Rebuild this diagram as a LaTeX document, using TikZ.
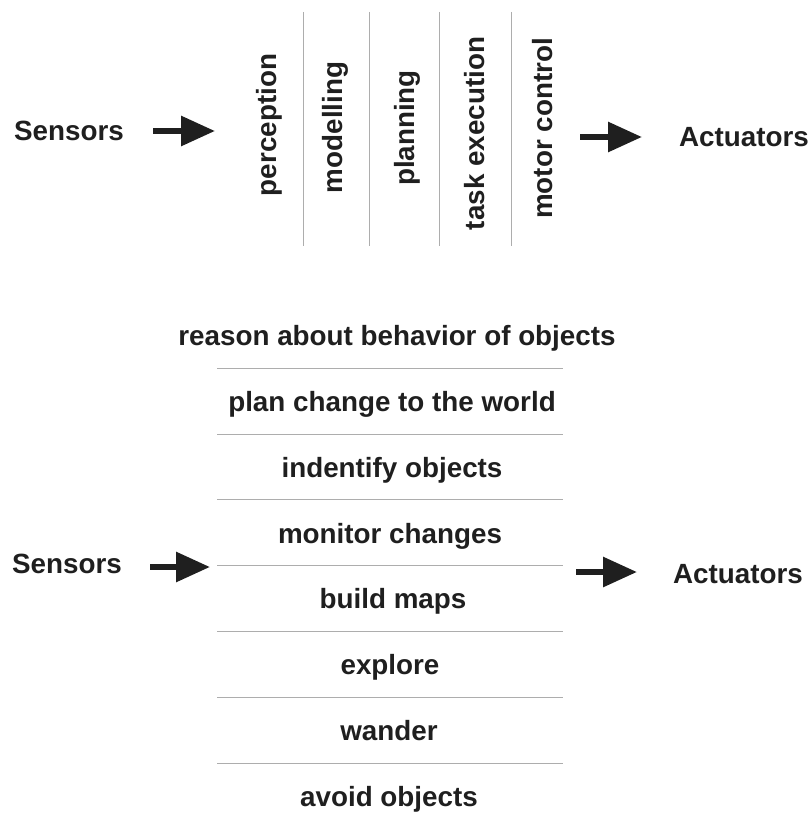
\documentclass[tikz,border=0pt]{standalone}
\usepackage{fontspec}
\setmainfont{Liberation Sans}
\usetikzlibrary{arrows.meta}
\begin{document}
\begin{tikzpicture}[x=1pt,y=-1pt,
  lbl/.style={font=\fontsize{27.8}{30}\selectfont\bfseries, inner sep=0pt, text=black!88},
  vlbl/.style={lbl, rotate=90, anchor=center},
  hlbl/.style={lbl, anchor=base},
  sep/.style={draw=black!32, line width=0.6pt},
  bigarrow/.style={draw=black!88, line width=6pt, -{Triangle[length=34pt,width=29pt]}, shorten >=0pt}
]
\useasboundingbox (0,0) rectangle (811,813);

% ---------- top diagram ----------
\node[hlbl] (s1) at (69,141) {Sensors};
\node[hlbl] (a1) at (744,147) {Actuators};
\coordinate (s1a) at (153,131);
\coordinate (s1b) at (215,131);
\coordinate (a1a) at (580,137);
\coordinate (a1b) at (642,137);
\draw[bigarrow] (s1a) -- (s1b);
\draw[bigarrow] (a1a) -- (a1b);

\node[vlbl] (p1) at (269.5,125) {perception};
\node[vlbl] (p2) at (335,127.5) {modelling};
\node[vlbl] (p3) at (407,128) {planning};
\node[vlbl] (p4) at (475,133.5) {task execution};
\node[vlbl] (p5) at (543,128.5) {motor control};

\foreach \x/\n in {303/v1,369/v2,439/v3,511/v4}{
  \coordinate (\n t) at (\x,12);
  \coordinate (\n b) at (\x,246);
  \draw[sep] (\n t) -- (\n b);
}

% ---------- bottom diagram ----------
\node[hlbl] (s2) at (67,573) {Sensors};
\node[hlbl] (a2) at (738,583) {Actuators};
\coordinate (s2a) at (150,567);
\coordinate (s2b) at (210,567);
\coordinate (a2a) at (576,572);
\coordinate (a2b) at (637,572);
\draw[bigarrow] (s2a) -- (s2b);
\draw[bigarrow] (a2a) -- (a2b);

\node[hlbl] (t1) at (397,345) {reason about behavior of objects};
\node[hlbl] (t2) at (392,411) {plan change to the world};
\node[hlbl] (t3) at (392,477) {indentify objects};
\node[hlbl] (t4) at (390,543) {monitor changes};
\node[hlbl] (t5) at (393,608) {build maps};
\node[hlbl] (t6) at (390,674) {explore};
\node[hlbl] (t7) at (389,740) {wander};
\node[hlbl] (t8) at (389,806) {avoid objects};

\foreach \i in {0,...,6}{
  \coordinate (h\i l) at (217,368+65.8*\i);
  \coordinate (h\i r) at (563,368+65.8*\i);
  \draw[sep] (h\i l) -- (h\i r);
}
\end{tikzpicture}
\end{document}
